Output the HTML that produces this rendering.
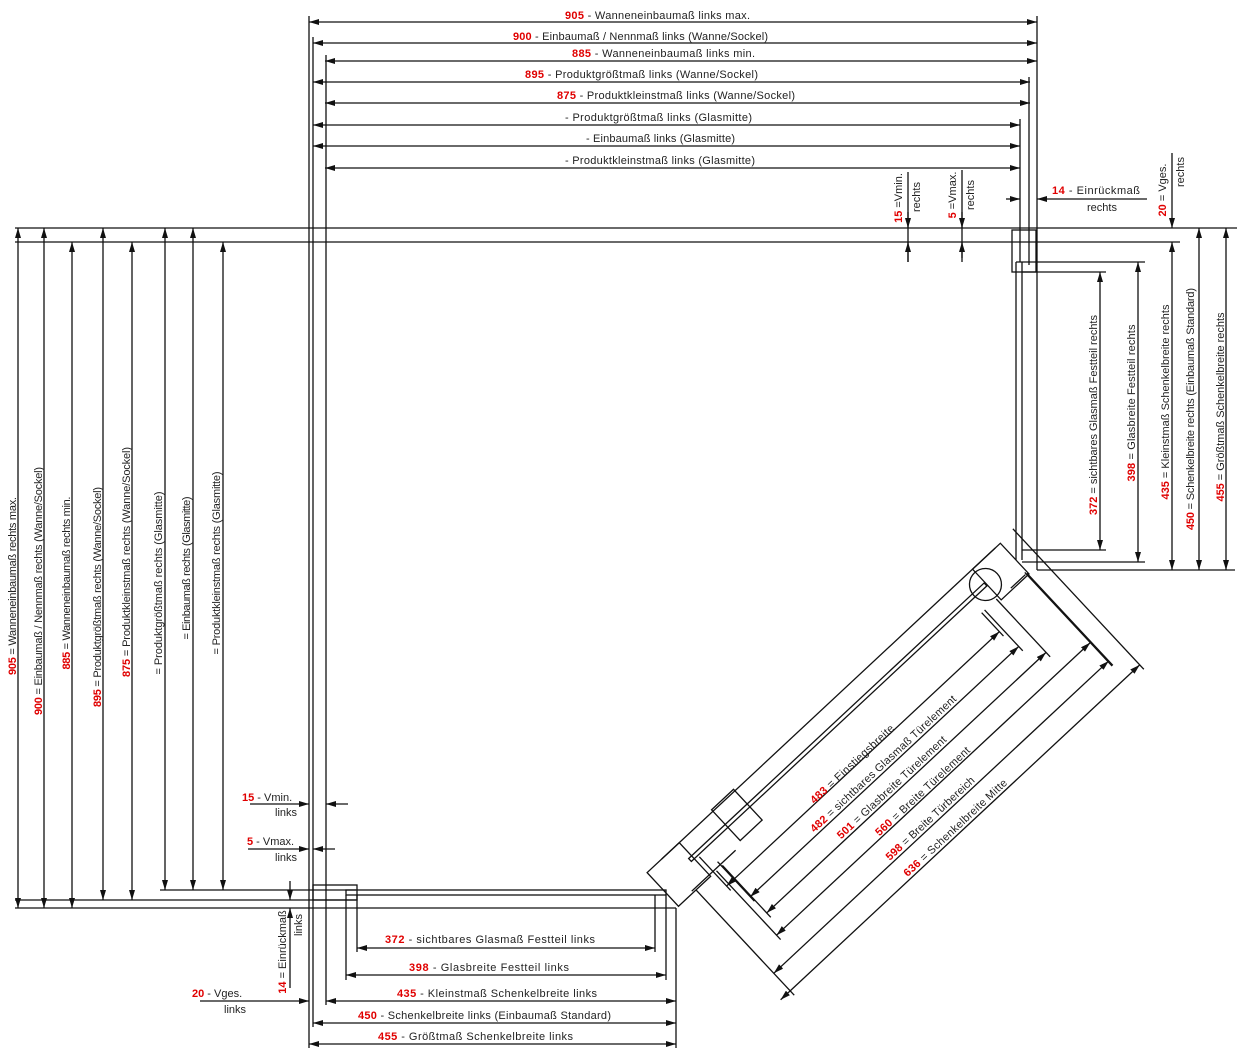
<!DOCTYPE html>
<html><head><meta charset="utf-8"><style>
html,body{margin:0;padding:0;background:#fff;}
svg{display:block;}
text{font-family:"Liberation Sans Narrow","Liberation Sans",sans-serif;font-size:11px;fill:#222;}
.r{fill:#e00000;font-weight:bold;}
line,polyline,rect,circle,path{stroke:#111;stroke-width:1.3;fill:none;}
.t{stroke-width:1;}
</style></head><body>
<svg width="1257" height="1062" viewBox="0 0 1257 1062" xmlns="http://www.w3.org/2000/svg">
<defs>
<marker id="a" viewBox="0 0 10 6" refX="10" refY="3" markerWidth="10" markerHeight="6" markerUnits="userSpaceOnUse" orient="auto-start-reverse"><path d="M0,0 L10,3 L0,6 Z" style="fill:#111;stroke:none"/></marker>
</defs>

<!-- top dimension lines -->
<g marker-start="url(#a)" marker-end="url(#a)">
<line x1="309" y1="22" x2="1037" y2="22"/>
<line x1="313" y1="43" x2="1037" y2="43"/>
<line x1="325" y1="61" x2="1037" y2="61"/>
<line x1="313" y1="82" x2="1030" y2="82"/>
<line x1="325" y1="103" x2="1030" y2="103"/>
<line x1="313" y1="125" x2="1020" y2="125"/>
<line x1="313" y1="146" x2="1020" y2="146"/>
<line x1="325" y1="168" x2="1020" y2="168"/>
</g>
<text x="565" y="19" textLength="185"><tspan class="r">905</tspan>  - Wanneneinbaumaß links max.</text>
<text x="513" y="40" textLength="255"><tspan class="r">900</tspan> - Einbaumaß / Nennmaß links (Wanne/Sockel)</text>
<text x="572" y="57" textLength="183"><tspan class="r">885</tspan>  - Wanneneinbaumaß links min.</text>
<text x="525" y="78" textLength="233"><tspan class="r">895</tspan> - Produktgrößtmaß links (Wanne/Sockel)</text>
<text x="557" y="99" textLength="238"><tspan class="r">875</tspan>  - Produktkleinstmaß links (Wanne/Sockel)</text>
<text x="565" y="121" textLength="187">- Produktgrößtmaß links (Glasmitte)</text>
<text x="586" y="142" textLength="149">- Einbaumaß links (Glasmitte)</text>
<text x="565" y="164" textLength="190">- Produktkleinstmaß links (Glasmitte)</text>

<!-- main verticals -->
<line x1="309" y1="16" x2="309" y2="1048"/>
<line x1="313" y1="37" x2="313" y2="1027"/>
<line x1="326" y1="55" x2="326" y2="1005"/>
<line x1="1037" y1="16" x2="1037" y2="570"/>
<line x1="1029" y1="77" x2="1029" y2="265"/>
<line x1="1020" y1="119" x2="1020" y2="262"/>

<!-- walls -->
<line x1="15" y1="228" x2="1237" y2="228"/>
<line x1="15" y1="242" x2="1180" y2="242"/>
<line x1="15" y1="908" x2="676" y2="908"/>
<line x1="15" y1="900" x2="356" y2="900"/>
<rect x="1012" y="230" width="24" height="42"/>

<!-- left vertical dims -->
<g marker-start="url(#a)" marker-end="url(#a)">
<line x1="18" y1="228" x2="18" y2="908"/>
<line x1="44" y1="228" x2="44" y2="908"/>
<line x1="72" y1="242" x2="72" y2="908"/>
<line x1="103" y1="228" x2="103" y2="900"/>
<line x1="132" y1="242" x2="132" y2="900"/>
<line x1="165" y1="228" x2="165" y2="890"/>
<line x1="193" y1="228" x2="193" y2="890"/>
<line x1="223" y1="242" x2="223" y2="890"/>
</g>
<line x1="160" y1="890" x2="356" y2="890"/>
<g>
<text transform="translate(16,586) rotate(-90)" text-anchor="middle" textLength="178"><tspan class="r">905</tspan> = Wanneneinbaumaß rechts max.</text>
<text transform="translate(42,591) rotate(-90)" text-anchor="middle" textLength="248"><tspan class="r">900</tspan> = Einbaumaß / Nennmaß rechts (Wanne/Sockel)</text>
<text transform="translate(70,583) rotate(-90)" text-anchor="middle" textLength="173"><tspan class="r">885</tspan> = Wanneneinbaumaß rechts min.</text>
<text transform="translate(101,597) rotate(-90)" text-anchor="middle" textLength="220"><tspan class="r">895</tspan> = Produktgrößtmaß rechts (Wanne/Sockel)</text>
<text transform="translate(130,562) rotate(-90)" text-anchor="middle" textLength="230"><tspan class="r">875</tspan> = Produktkleinstmaß rechts (Wanne/Sockel)</text>
<text transform="translate(162,583) rotate(-90)" text-anchor="middle" textLength="183">= Produktgrößtmaß rechts (Glasmitte)</text>
<text transform="translate(190,568) rotate(-90)" text-anchor="middle" textLength="143">= Einbaumaß rechts (Glasmitte)</text>
<text transform="translate(220,563) rotate(-90)" text-anchor="middle" textLength="183">= Produktkleinstmaß rechts (Glasmitte)</text>
</g>

<!-- right vertical dims -->
<line x1="1016" y1="262" x2="1145" y2="262"/>
<line x1="1022" y1="272" x2="1106" y2="272"/>
<line x1="1022" y1="550" x2="1106" y2="550"/>
<line x1="1022" y1="562" x2="1145" y2="562"/>
<line x1="1037" y1="570" x2="1235" y2="570"/>
<line x1="1016" y1="262" x2="1016" y2="560"/>
<line x1="1022" y1="262" x2="1022" y2="560"/>
<g marker-start="url(#a)" marker-end="url(#a)">
<line x1="1100" y1="272" x2="1100" y2="550"/>
<line x1="1138" y1="262" x2="1138" y2="562"/>
<line x1="1172" y1="242" x2="1172" y2="570"/>
<line x1="1199" y1="228" x2="1199" y2="570"/>
<line x1="1226" y1="228" x2="1226" y2="570"/>
</g>
<text transform="translate(1097,415) rotate(-90)" text-anchor="middle" textLength="200"><tspan class="r">372</tspan> = sichtbares Glasmaß Festteil rechts</text>
<text transform="translate(1135,403) rotate(-90)" text-anchor="middle" textLength="157"><tspan class="r">398</tspan> = Glasbreite Festteil rechts</text>
<text transform="translate(1169,402) rotate(-90)" text-anchor="middle" textLength="195"><tspan class="r">435</tspan> = Kleinstmaß Schenkelbreite rechts</text>
<text transform="translate(1194,409) rotate(-90)" text-anchor="middle" textLength="242"><tspan class="r">450</tspan> = Schenkelbreite rechts (Einbaumaß Standard)</text>
<text transform="translate(1224,407) rotate(-90)" text-anchor="middle" textLength="189"><tspan class="r">455</tspan> = Größtmaß Schenkelbreite rechts</text>

<!-- top right small dims -->
<line x1="908" y1="172" x2="908" y2="262"/>
<line x1="962" y1="170" x2="962" y2="262"/>
<line x1="908" y1="212" x2="908" y2="228" marker-end="url(#a)"/>
<line x1="908" y1="262" x2="908" y2="242" marker-end="url(#a)"/>
<line x1="962" y1="212" x2="962" y2="228" marker-end="url(#a)"/>
<line x1="962" y1="258" x2="962" y2="242" marker-end="url(#a)"/>
<text transform="translate(902,198) rotate(-90)" text-anchor="middle"><tspan class="r">15</tspan> =Vmin.</text>
<text transform="translate(920,197) rotate(-90)" text-anchor="middle">rechts</text>
<text transform="translate(956,195) rotate(-90)" text-anchor="middle"><tspan class="r">5</tspan> =Vmax.</text>
<text transform="translate(974,195) rotate(-90)" text-anchor="middle">rechts</text>
<line x1="1006" y1="199" x2="1020" y2="199" marker-end="url(#a)"/>
<line x1="1147" y1="199" x2="1037" y2="199" marker-end="url(#a)"/>
<text x="1052" y="194" textLength="88"><tspan class="r">14</tspan>  - Einrückmaß</text>
<text x="1087" y="211">rechts</text>
<line x1="1172" y1="153" x2="1172" y2="228" marker-end="url(#a)"/>
<text transform="translate(1166,190) rotate(-90)" text-anchor="middle"><tspan class="r">20</tspan> = Vges.</text>
<text transform="translate(1184,172) rotate(-90)" text-anchor="middle">rechts</text>

<!-- left small dims -->
<line x1="250" y1="804" x2="309" y2="804" marker-end="url(#a)"/>
<line x1="348" y1="804" x2="326" y2="804" marker-end="url(#a)"/>
<text x="242" y="801"><tspan class="r">15</tspan>  - Vmin.</text>
<text x="275" y="816">links</text>
<line x1="248" y1="849" x2="309" y2="849" marker-end="url(#a)"/>
<line x1="335" y1="849" x2="313" y2="849" marker-end="url(#a)"/>
<text x="247" y="845"><tspan class="r">5</tspan>  - Vmax.</text>
<text x="275" y="861">links</text>
<line x1="290" y1="881" x2="290" y2="900" marker-end="url(#a)"/>
<line x1="290" y1="988" x2="290" y2="908" marker-end="url(#a)"/>
<text transform="translate(286,952) rotate(-90)" text-anchor="middle"><tspan class="r">14</tspan> = Einrückmaß</text>
<text transform="translate(302,925) rotate(-90)" text-anchor="middle">links</text>
<line x1="200" y1="1001" x2="309" y2="1001" marker-end="url(#a)"/>
<text x="192" y="997"><tspan class="r">20</tspan>  - Vges.</text>
<text x="224" y="1013">links</text>

<!-- bottom glass and dims -->
<rect x="346" y="890" width="320" height="5"/>
<rect x="313" y="885" width="44" height="15"/>
<line x1="346" y1="895" x2="346" y2="980"/>
<line x1="357" y1="895" x2="357" y2="952"/>
<line x1="655" y1="895" x2="655" y2="952"/>
<line x1="666" y1="895" x2="666" y2="980"/>
<line x1="676" y1="908" x2="676" y2="1048"/>
<g marker-start="url(#a)" marker-end="url(#a)">
<line x1="357" y1="948" x2="655" y2="948"/>
<line x1="346" y1="975" x2="666" y2="975"/>
<line x1="326" y1="1001" x2="676" y2="1001"/>
<line x1="313" y1="1023" x2="676" y2="1023"/>
<line x1="309" y1="1044" x2="676" y2="1044"/>
</g>
<text x="385" y="943" textLength="210"><tspan class="r">372</tspan>  - sichtbares Glasmaß Festteil links</text>
<text x="409" y="971" textLength="160"><tspan class="r">398</tspan>  - Glasbreite Festteil links</text>
<text x="397" y="997" textLength="200"><tspan class="r">435</tspan>  - Kleinstmaß Schenkelbreite links</text>
<text x="358" y="1019" textLength="253"><tspan class="r">450</tspan>  - Schenkelbreite links (Einbaumaß Standard)</text>
<text x="378" y="1040" textLength="195"><tspan class="r">455</tspan>  - Größtmaß Schenkelbreite links</text>

<!-- diagonal door section -->
<g transform="translate(690,860) rotate(-43)">
<rect x="0" y="-2" width="404" height="4"/>
<line x1="-20" y1="-20" x2="436" y2="-20"/>
<line x1="-20" y1="24" x2="40" y2="24"/>
<line x1="420" y1="20" x2="440" y2="20"/>
<rect x="-40" y="-20" width="44" height="46"/>
<rect x="405" y="-20" width="38" height="42"/>
<circle cx="404" cy="0" r="16"/>
<rect x="50" y="-22" width="30" height="42"/>
<!-- extension lines -->
<line x1="9" y1="4" x2="9" y2="50"/>
<line x1="382" y1="18" x2="382" y2="50"/>
<line x1="19" y1="20" x2="19" y2="74"/>
<line x1="386" y1="18" x2="386" y2="74"/>
<line x1="20" y1="26" x2="20" y2="97"/>
<line x1="402" y1="18" x2="402" y2="97"/>
<line x1="-16" y1="26" x2="-16" y2="170"/>
<line x1="12" y1="26" x2="12" y2="120"/>
<line x1="441" y1="18" x2="441" y2="146"/>
<line x1="462" y1="-22" x2="462" y2="170"/>
<line x1="442" y1="20" x2="442" y2="146"/>
<g marker-start="url(#a)" marker-end="url(#a)">
<line x1="9" y1="44" x2="382" y2="44"/>
<line x1="19" y1="68" x2="386" y2="68"/>
<line x1="20" y1="91" x2="402" y2="91"/>
<line x1="12" y1="114" x2="441" y2="114"/>
<line x1="-16" y1="140" x2="442" y2="140"/>
<line x1="-29" y1="164" x2="462" y2="164"/>
</g>
<text x="184" y="44" text-anchor="middle" textLength="110"><tspan class="r">483</tspan> = Einstiegsbreite</text>
<text x="207" y="65" text-anchor="middle" textLength="195"><tspan class="r">482</tspan> = sichtbares Glasmaß Türelement</text>
<text x="197" y="88" text-anchor="middle" textLength="145"><tspan class="r">501</tspan>  = Glasbreite Türelement</text>
<text x="217" y="112" text-anchor="middle" textLength="125"><tspan class="r">560</tspan> = Breite Türelement</text>
<text x="204" y="137" text-anchor="middle" textLength="117"><tspan class="r">598</tspan> = Breite Türbereich</text>
<text x="216" y="161" text-anchor="middle" textLength="137"><tspan class="r">636</tspan> = Schenkelbreite Mitte</text>
</g>
</svg>
</body></html>
